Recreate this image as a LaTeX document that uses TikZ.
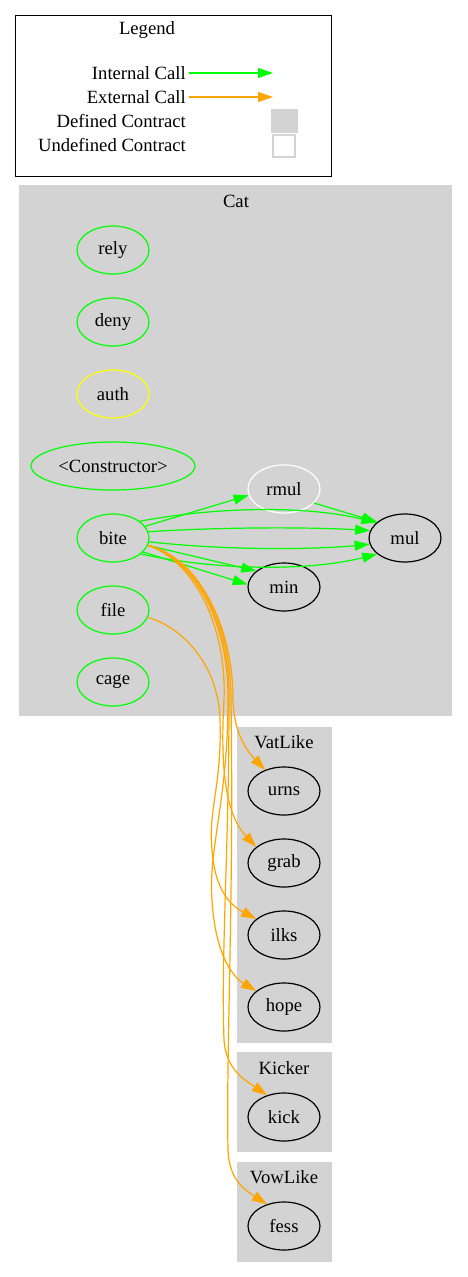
\documentclass[tikz,border=0pt]{standalone}
\usepackage{fontspec}
\setmainfont{Liberation Serif}
\usetikzlibrary{arrows.meta,shapes.geometric}
\definecolor{gvorange}{HTML}{FFA500}
\definecolor{gvgreen}{HTML}{00FF00}
\definecolor{gvgray}{HTML}{D3D3D3}
\definecolor{gvyellow}{HTML}{FFFF00}
\tikzset{
  every node/.style={font=\fontsize{18.67}{22}\selectfont},
  fn/.style={ellipse, draw, line width=1.2pt, minimum width=72pt, minimum height=48pt, inner sep=0pt},
  pub/.style={fn, draw=gvgreen},
  ext/.style={fn, draw=black},
  clusterbox/.style={fill=gvgray},
  tip/.style={-{Triangle[length=15pt,width=10pt]}},
  icall/.style={tip, draw=gvgreen, line width=1.2pt},
  ecall/.style={tip, draw=gvorange, line width=1.2pt},
  legtext/.style={anchor=east, inner sep=0pt},
}
\begin{document}
\begin{tikzpicture}[x=1pt,y=-1pt]
\useasboundingbox (0,0) rectangle (467,1277);
% Legend
\draw[line width=1pt] (15,15) rectangle (331,176);
\node (legtitle) at (147,30) {Legend};
\node[legtext] (lint) at (186,73) {Internal Call};
\node[legtext] (lext) at (186,97) {External Call};
\node[legtext] (ldef) at (186,121) {Defined Contract};
\node[legtext] (lund) at (186,145) {Undefined Contract};
\coordinate (lintend) at (273,73);
\coordinate (lextend) at (273,97);
\draw[icall] ([xshift=3pt]lint.east) -- (lintend);
\draw[ecall] ([xshift=3pt]lext.east) -- (lextend);
\node[fill=gvgray, minimum width=27pt, minimum height=24pt, inner sep=0pt] (ldefbox) at (284.5,121) {};
\node[draw=gvgray, line width=1.2pt, minimum width=22pt, minimum height=22pt, inner sep=0pt] (lundbox) at (284,146) {};
% Clusters
\fill[clusterbox] (19,185) rectangle (452,716);
\node (cattitle) at (236,201) {Cat};
\fill[clusterbox] (237,727) rectangle (332,1043);
\node (vattitle) at (284,742) {VatLike};
\fill[clusterbox] (237,1052) rectangle (332,1152);
\node (kicktitle) at (284,1068) {Kicker};
\fill[clusterbox] (237,1162) rectangle (332,1262);
\node (vowtitle) at (284,1177) {VowLike};
% Cat nodes
\node[pub] (rely) at (113,250) {rely};
\node[pub] (deny) at (113,322) {deny};
\node[fn, draw=gvyellow] (auth) at (113,394) {auth};
\node[pub, minimum width=164pt] (ctor) at (113,466) {<Constructor>};
\node[pub] (bite) at (113,538) {bite};
\node[pub] (file) at (113,610) {file};
\node[pub] (cage) at (113,682) {cage};
\node[fn, draw=white] (rmul) at (284,489) {rmul};
\node[ext] (mul) at (405,538) {mul};
\node[ext] (min) at (284,587) {min};
% external nodes
\node[ext] (urns) at (284,791) {urns};
\node[ext] (grab) at (284,863) {grab};
\node[ext] (ilks) at (284,935) {ilks};
\node[ext] (hope) at (284,1007) {hope};
\node[ext] (kick) at (284,1117) {kick};
\node[ext] (fess) at (284,1226) {fess};
% internal calls
\draw[icall] (bite.20) -- (rmul.190);
\draw[icall] (rmul.-25) -- (mul.150);
\draw[icall] (bite.32) .. controls (220,506) and (310,506) .. (mul.152);
\draw[icall] (bite.10) .. controls (220,527) and (310,527) .. (mul.168);
\draw[icall] (bite.-6) .. controls (220,550) and (310,550) .. (mul.190);
\draw[icall] (bite.-30) .. controls (220,571) and (310,571) .. (mul.210);
\draw[icall] (bite.-12) -- (min.150);
\draw[icall] (bite.-25) -- (min.176);
% external calls
\draw[ecall] (bite.-12) .. controls (195,558) and (233,620) .. (233,700) .. controls (234,735) and (248,752) .. (urns.132);
\draw[ecall] (bite.-12) .. controls (193,560) and (227,625) .. (224,700) .. controls (220,770) and (226,815) .. (grab.150);
\draw[ecall] (file.-12) .. controls (185,628) and (219,668) .. (220,720) .. controls (222,785) and (208,810) .. (212,850) .. controls (215,890) and (230,905) .. (ilks.150);
\draw[ecall] (bite.-12) .. controls (194,559) and (229,622) .. (228,700) .. controls (228,800) and (208,850) .. (212,900) .. controls (215,950) and (230,975) .. (hope.150);
\draw[ecall] (bite.-12) .. controls (196,558) and (230,621) .. (229,700) .. controls (229,850) and (221,950) .. (224,1040) .. controls (226,1070) and (245,1080) .. (kick.128);
\draw[ecall] (bite.-12) .. controls (197,557) and (231,620) .. (231,700) .. controls (234,900) and (226,1050) .. (228,1150) .. controls (229,1180) and (245,1190) .. (fess.128);
\end{tikzpicture}
\end{document}
